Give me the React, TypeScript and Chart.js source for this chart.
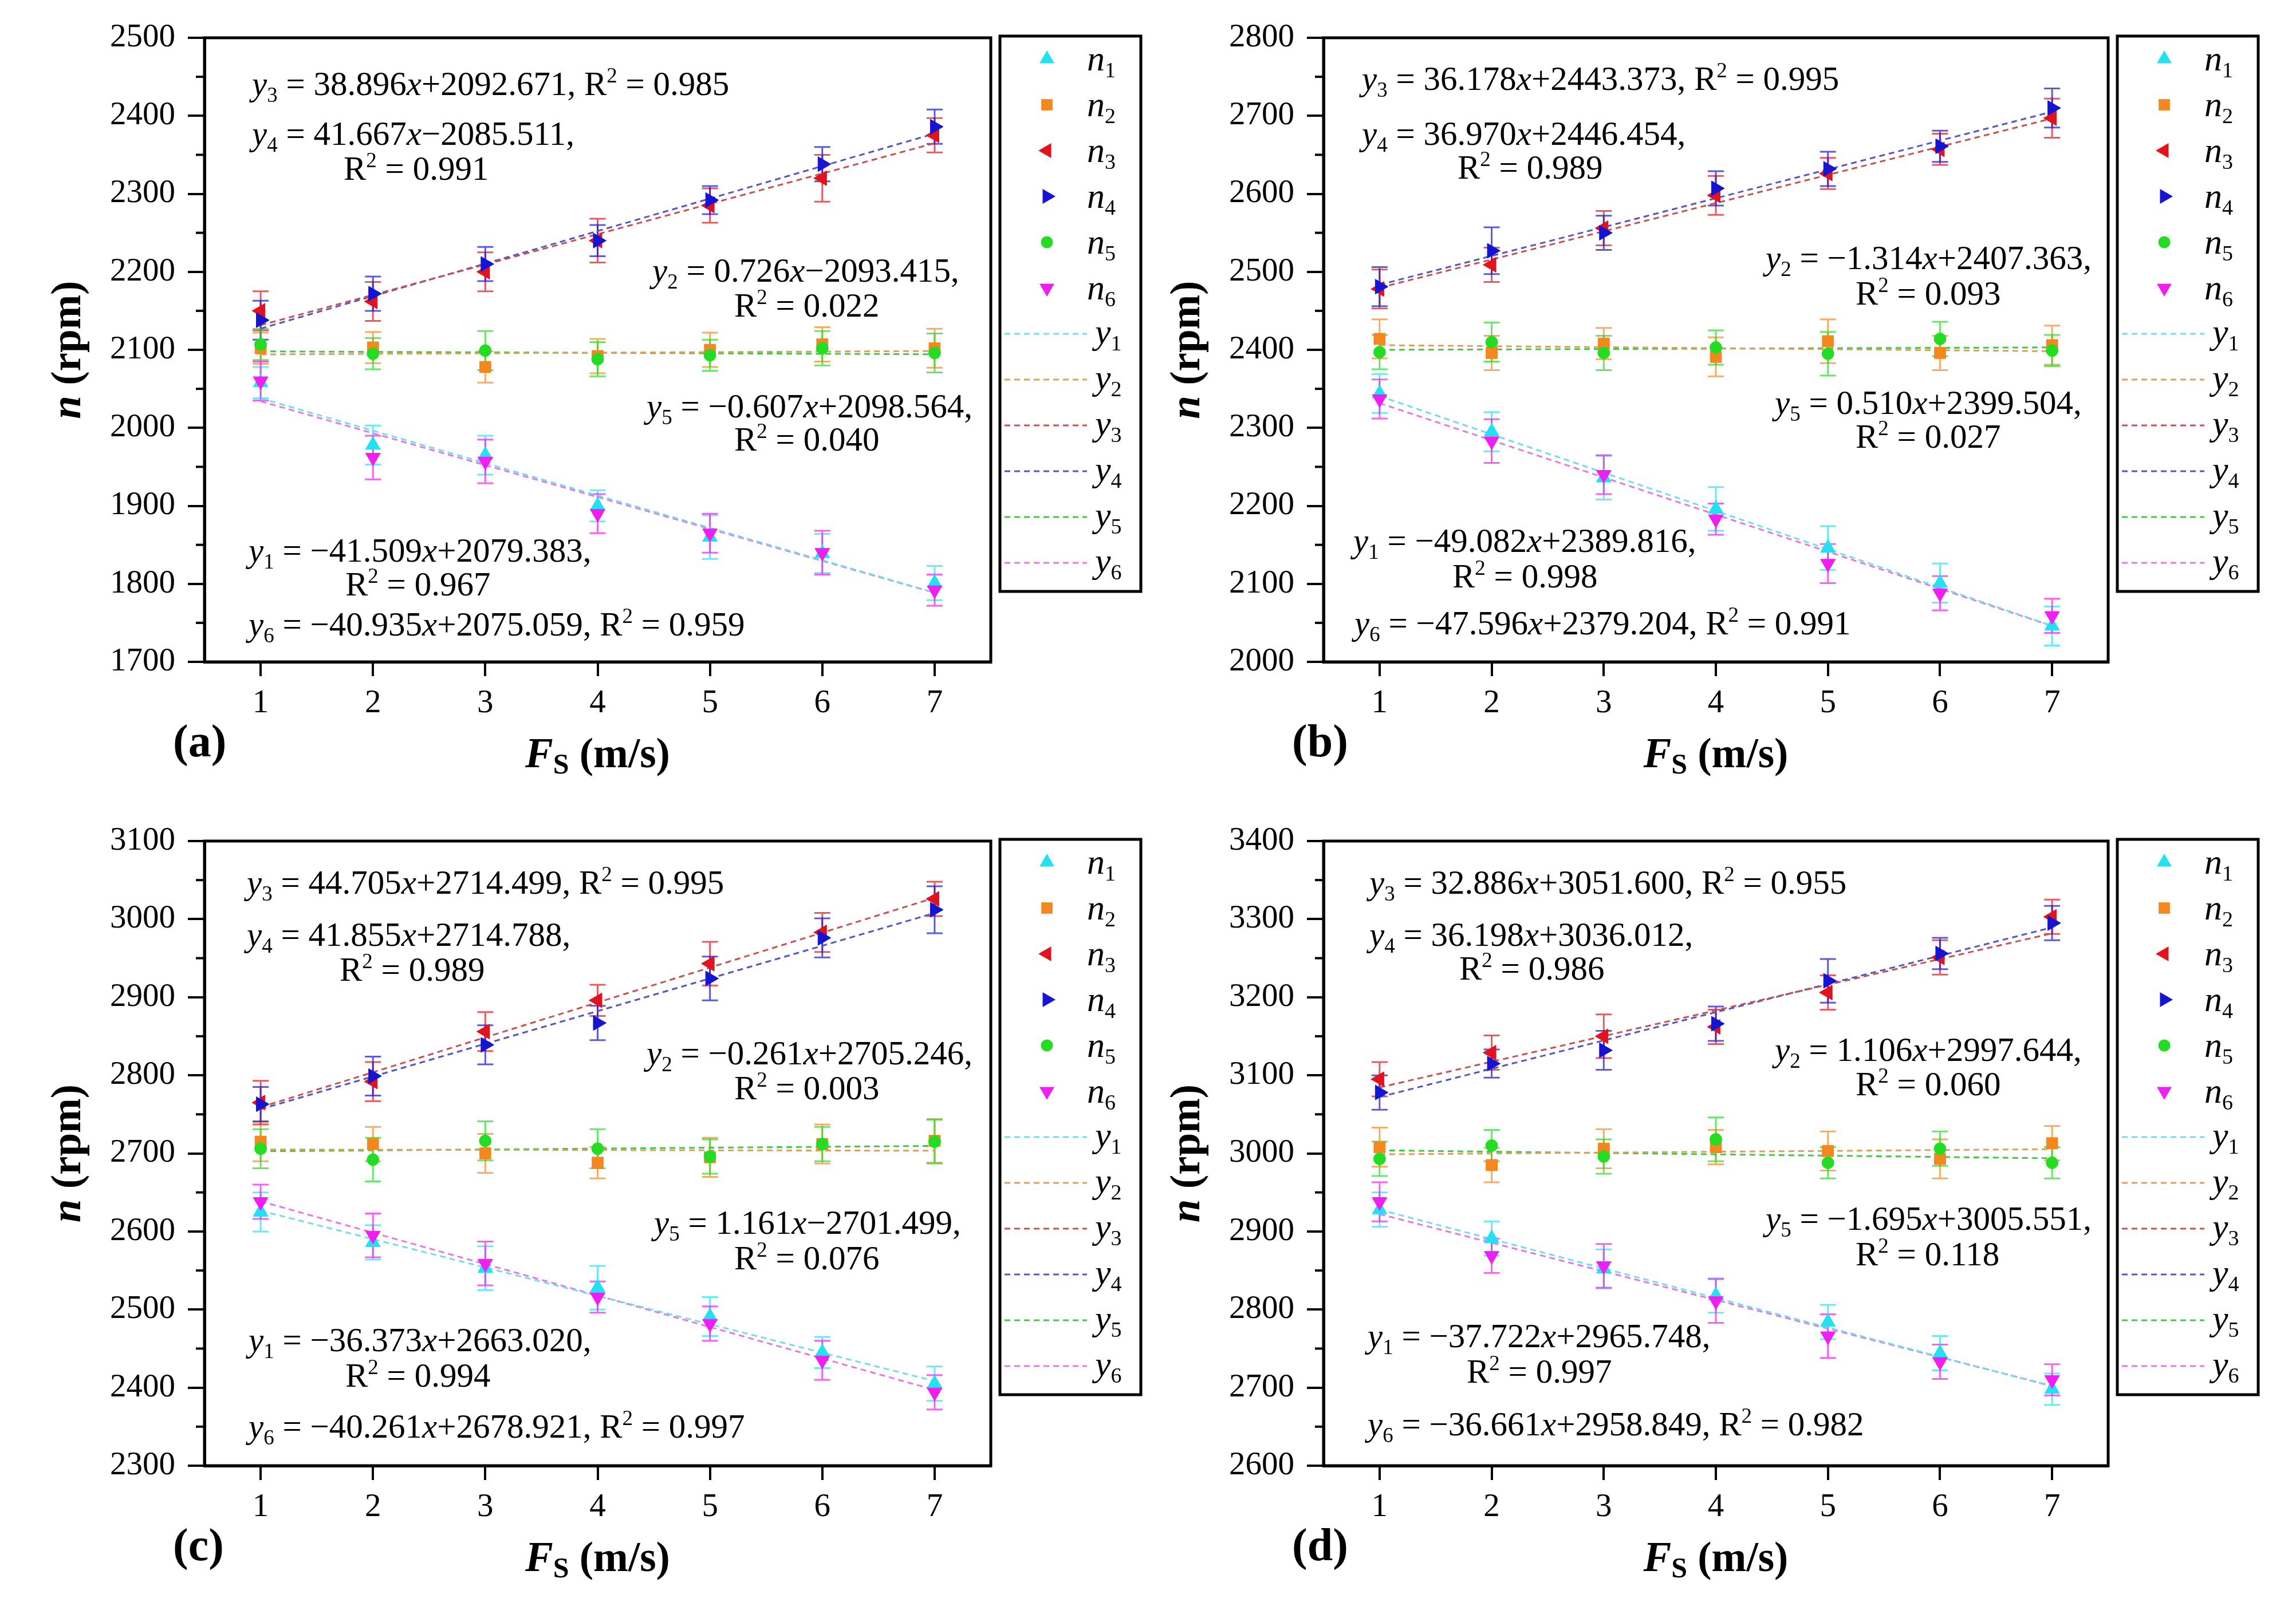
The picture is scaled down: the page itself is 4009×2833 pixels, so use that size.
import React, { useEffect, useRef } from 'react';
import { Chart, registerables } from 'chart.js';
import { drawPoint } from 'chart.js/helpers';

Chart.register(...registerables);

const SERIF = '"Liberation Serif", "Times New Roman", Times, serif';

// ---------------- data ----------------
const X_VALUES = [1, 2, 3, 4, 5, 6, 7];
const X_TICKS = [1, 2, 3, 4, 5, 6, 7];
const SERIES_NAMES = ['n1', 'n2', 'n3', 'n4', 'n5', 'n6'];
const FIT_NAMES = ['y1', 'y2', 'y3', 'y4', 'y5', 'y6'];
const PANEL_LETTERS = ['(a)', '(b)', '(c)', '(d)'];

// panel (a)
const A_Y_RANGE = [1700, 2500];
const A_VALUES = [
  [2058, 1978, 1965, 1900, 1860, 1839, 1801],
  [2102, 2103, 2078, 2092, 2100, 2107, 2102],
  [2150, 2162, 2200, 2240, 2285, 2320, 2375],
  [2138, 2172, 2210, 2240, 2292, 2338, 2386],
  [2107, 2095, 2099, 2088, 2093, 2102, 2096],
  [2060, 1962, 1957, 1890, 1865, 1840, 1792],
];
const A_ERRORS = [
  [20, 25, 25, 20, 28, 25, 22],
  [20, 20, 20, 22, 22, 22, 25],
  [25, 25, 25, 28, 22, 30, 22],
  [25, 22, 22, 20, 18, 22, 22],
  [20, 20, 25, 22, 20, 22, 25],
  [25, 28, 28, 25, 25, 28, 20],
];
const A_FIT_AT_1 = [2037.9, 2094.1, 2131.6, 2127.2, 2098.0, 2034.1];
const A_FIT_AT_7 = [1788.8, 2098.5, 2364.9, 2377.2, 2094.3, 1788.5];
const A_EQUATIONS = [
  'y3 = 38.896x+2092.671, R2 = 0.985',
  'y4 = 41.667x\u22122085.511,',
  'R2 = 0.991',
  'y2 = 0.726x\u22122093.415,',
  'R2 = 0.022',
  'y5 = \u22120.607x+2098.564,',
  'R2 = 0.040',
  'y1 = \u221241.509x+2079.383,',
  'R2 = 0.967',
  'y6 = \u221240.935x+2075.059, R2 = 0.959',
];

// panel (b)
const B_Y_RANGE = [2000, 2800];
const B_VALUES = [
  [2344, 2295, 2236, 2196, 2146, 2101, 2046],
  [2414, 2396, 2408, 2391, 2411, 2396, 2406],
  [2478, 2509, 2556, 2598, 2626, 2657, 2697],
  [2481, 2527, 2550, 2607, 2632, 2661, 2710],
  [2397, 2410, 2396, 2403, 2395, 2414, 2399],
  [2337, 2283, 2240, 2183, 2126, 2088, 2059],
];
const B_ERRORS = [
  [25, 25, 28, 28, 28, 25, 25],
  [25, 22, 20, 25, 28, 22, 25],
  [25, 22, 22, 25, 20, 20, 25],
  [25, 30, 22, 22, 22, 20, 25],
  [22, 25, 22, 22, 28, 22, 20],
  [25, 28, 25, 20, 25, 22, 22],
];
const B_FIT_AT_1 = [2340.7, 2406.0, 2479.6, 2483.4, 2400.0, 2331.6];
const B_FIT_AT_7 = [2046.2, 2398.2, 2696.6, 2705.2, 2403.1, 2046.0];
const B_EQUATIONS = [
  'y3 = 36.178x+2443.373, R2 = 0.995',
  'y4 = 36.970x+2446.454,',
  'R2 = 0.989',
  'y2 = \u22121.314x+2407.363,',
  'R2 = 0.093',
  'y5 = 0.510x+2399.504,',
  'R2 = 0.027',
  'y1 = \u221249.082x+2389.816,',
  'R2 = 0.998',
  'y6 = \u221247.596x+2379.204, R2 = 0.991',
];

// panel (c)
const C_Y_RANGE = [2300, 3100];
const C_VALUES = [
  [2625, 2586, 2553, 2528, 2491, 2445, 2405],
  [2715, 2712, 2700, 2688, 2695, 2712, 2716],
  [2765, 2792, 2856, 2896, 2943, 2983, 3026],
  [2763, 2799, 2839, 2867, 2924, 2976, 3012],
  [2706, 2692, 2716, 2706, 2696, 2712, 2715],
  [2638, 2595, 2559, 2516, 2482, 2435, 2394],
];
const C_ERRORS = [
  [25, 22, 28, 28, 25, 20, 22],
  [25, 22, 25, 20, 25, 25, 28],
  [28, 25, 25, 20, 28, 25, 22],
  [22, 25, 25, 22, 28, 25, 30],
  [25, 28, 25, 25, 22, 22, 28],
  [22, 28, 28, 20, 22, 25, 22],
];
const C_FIT_AT_1 = [2626.6, 2705.0, 2759.2, 2756.6, 2702.7, 2638.7];
const C_FIT_AT_7 = [2408.4, 2703.4, 3027.4, 3007.8, 2709.6, 2397.1];
const C_EQUATIONS = [
  'y3 = 44.705x+2714.499, R2 = 0.995',
  'y4 = 41.855x+2714.788,',
  'R2 = 0.989',
  'y2 = \u22120.261x+2705.246,',
  'R2 = 0.003',
  'y5 = 1.161x\u22122701.499,',
  'R2 = 0.076',
  'y1 = \u221236.373x+2663.020,',
  'R2 = 0.994',
  'y6 = \u221240.261x+2678.921, R2 = 0.997',
];

// panel (d)
const D_Y_RANGE = [2600, 3400];
const D_VALUES = [
  [2928, 2891, 2852, 2818, 2784, 2744, 2698],
  [3008, 2985, 3006, 3008, 3003, 2993, 3013],
  [3095, 3129, 3150, 3162, 3206, 3251, 3303],
  [3078, 3115, 3132, 3166, 3221, 3256, 3295],
  [2993, 3010, 2996, 3018, 2988, 3006, 2988],
  [2938, 2869, 2856, 2811, 2766, 2733, 2710],
];
const D_ERRORS = [
  [22, 22, 25, 22, 22, 22, 20],
  [25, 22, 25, 22, 25, 25, 22],
  [22, 22, 28, 22, 22, 22, 22],
  [22, 18, 25, 22, 28, 20, 22],
  [22, 20, 22, 28, 20, 22, 20],
  [25, 22, 28, 28, 28, 22, 20],
];
const D_FIT_AT_1 = [2928.0, 2998.8, 3084.5, 3072.2, 3003.9, 2922.2];
const D_FIT_AT_7 = [2701.7, 3005.4, 3281.8, 3289.4, 2993.7, 2702.2];
const D_EQUATIONS = [
  'y3 = 32.886x+3051.600, R2 = 0.955',
  'y4 = 36.198x+3036.012,',
  'R2 = 0.986',
  'y2 = 1.106x+2997.644,',
  'R2 = 0.060',
  'y5 = \u22121.695x+3005.551,',
  'R2 = 0.118',
  'y1 = \u221237.722x+2965.748,',
  'R2 = 0.997',
  'y6 = \u221236.661x+2958.849, R2 = 0.982',
];

// ---------------- styles ----------------
const SERIES_STYLES = [
  { color: '#22E2F2', pointStyle: 'triangle', rotation: 0, radius: 15 },
  { color: '#F5871F', pointStyle: 'rect', rotation: 0, radius: 14 },
  { color: '#E3121C', pointStyle: 'triangle', rotation: -90, radius: 15 },
  { color: '#1414D2', pointStyle: 'triangle', rotation: 90, radius: 15 },
  { color: '#22DD22', pointStyle: 'circle', rotation: 0, radius: 10.5 },
  { color: '#F01EF0', pointStyle: 'triangle', rotation: 180, radius: 15 },
];
const FIT_COLORS = ['#74DCEA', '#D9A060', '#C85050', '#5555C4', '#44C844', '#E478E4'];
const ERR_ALPHA = 0.7;

// ---------------- layout ----------------
const LAYOUTS = [
  { left: 0, top: 0, w: 2000, h: 1400, L: 357, R: 1730, T: 66, B: 1156,
    eqPos: [[83, 81], [83, 168], [243, 229], [782, 407], [925, 468], [772, 644], [925, 702], [77, 896], [246, 955], [77, 1025]] },
  { left: 2000, top: 0, w: 2009, h: 1400, L: 311, R: 1681, T: 66, B: 1156,
    eqPos: [[67, 72], [67, 168], [234, 227], [772, 385], [929, 447], [788, 638], [929, 697], [52, 879], [225, 941], [54, 1023]] },
  { left: 0, top: 1400, w: 2000, h: 1433, L: 357, R: 1730, T: 69, B: 1160,
    eqPos: [[74, 73], [74, 164], [236, 225], [772, 371], [925, 432], [785, 667], [925, 729], [77, 872], [246, 934], [77, 1023]] },
  { left: 2000, top: 1400, w: 2009, h: 1433, L: 311, R: 1681, T: 69, B: 1160,
    eqPos: [[80, 73], [80, 164], [237, 223], [788, 365], [929, 425], [772, 660], [929, 722], [77, 865], [250, 927], [77, 1019]] },
];

const EQ_SIZE = 59;
const LEGEND_SIZE = 62;
const TICK_SIZE = 57;
const TITLE_SIZE = 73;
const LETTER_SIZE = 80;

const PANELS = [
  { range: A_Y_RANGE, values: A_VALUES, errors: A_ERRORS, fit1: A_FIT_AT_1, fit7: A_FIT_AT_7, eqs: A_EQUATIONS },
  { range: B_Y_RANGE, values: B_VALUES, errors: B_ERRORS, fit1: B_FIT_AT_1, fit7: B_FIT_AT_7, eqs: B_EQUATIONS },
  { range: C_Y_RANGE, values: C_VALUES, errors: C_ERRORS, fit1: C_FIT_AT_1, fit7: C_FIT_AT_7, eqs: C_EQUATIONS },
  { range: D_Y_RANGE, values: D_VALUES, errors: D_ERRORS, fit1: D_FIT_AT_1, fit7: D_FIT_AT_7, eqs: D_EQUATIONS },
];

// ---------------- helpers ----------------
function withAlpha(hex: string, a: number) {
  const r = parseInt(hex.slice(1, 3), 16), g = parseInt(hex.slice(3, 5), 16), b = parseInt(hex.slice(5, 7), 16);
  return `rgba(${r},${g},${b},${a})`;
}

type Seg = { t: string; font: string; dy: number };
function richSegments(text: string, size: number, bold = false): Seg[] {
  const w = bold ? 'bold ' : '';
  const small = Math.round(size * 0.62);
  const segs: Seg[] = [];
  for (let i = 0; i < text.length; i++) {
    const ch = text[i];
    const prev = i > 0 ? text[i - 1] : '';
    let font = `${w}${size}px ${SERIF}`;
    let dy = 0;
    if (ch === 'x' || ch === 'y' || ch === 'n') font = `italic ${w}${size}px ${SERIF}`;
    else if (/[0-9]/.test(ch) && (prev === 'y' || prev === 'n')) { font = `${w}${small}px ${SERIF}`; dy = size * 0.2; }
    else if (ch === '2' && prev === 'R') { font = `${w}${small}px ${SERIF}`; dy = -size * 0.38; }
    const last = segs[segs.length - 1];
    if (last && last.font === font && last.dy === dy) last.t += ch;
    else segs.push({ t: ch, font, dy });
  }
  return segs;
}
function drawRich(ctx: CanvasRenderingContext2D, text: string, x: number, baseline: number, size: number) {
  let cx = x;
  for (const s of richSegments(text, size)) {
    ctx.font = s.font;
    ctx.fillText(s.t, cx, baseline + s.dy);
    cx += ctx.measureText(s.t).width;
  }
}

function makeDecorPlugin(p: any, lay: any, letter: string) {
  return {
    id: 'decor',
    beforeDatasetsDraw(chart: any) {
      const { ctx } = chart;
      const xs = chart.scales.x, ys = chart.scales.y;
      ctx.save();
      ctx.lineWidth = 3;
      p.values.forEach((vals: number[], si: number) => {
        ctx.strokeStyle = withAlpha(SERIES_STYLES[si].color, ERR_ALPHA);
        vals.forEach((v: number, j: number) => {
          const e = p.errors[si][j];
          const px = xs.getPixelForValue(X_VALUES[j]);
          const pt = ys.getPixelForValue(v + e);
          const pb = ys.getPixelForValue(v - e);
          ctx.beginPath();
          ctx.moveTo(px, pt); ctx.lineTo(px, pb);
          ctx.moveTo(px - 14, pt); ctx.lineTo(px + 14, pt);
          ctx.moveTo(px - 14, pb); ctx.lineTo(px + 14, pb);
          ctx.stroke();
        });
      });
      ctx.restore();
    },
    afterDraw(chart: any) {
      const { ctx, chartArea: a } = chart;
      const ys = chart.scales.y;
      ctx.save();
      // frame
      ctx.strokeStyle = '#000';
      ctx.lineWidth = 5;
      ctx.strokeRect(a.left, a.top, a.right - a.left, a.bottom - a.top);
      // minor ticks
      ctx.lineWidth = 4;
      for (let v = p.range[0] + 50; v < p.range[1]; v += 100) {
        const py = ys.getPixelForValue(v);
        ctx.beginPath(); ctx.moveTo(a.left - 15, py); ctx.lineTo(a.left, py); ctx.stroke();
      }
      // equations
      ctx.fillStyle = '#000';
      ctx.textBaseline = 'alphabetic';
      ctx.textAlign = 'left';
      p.eqs.forEach((t: string, k: number) => {
        const [dx, dy] = lay.eqPos[k];
        drawRich(ctx, t, a.left + dx, a.top + dy + EQ_SIZE * 0.33, EQ_SIZE);
      });
      // legend
      const lx = a.right + 16, lt = a.top - 3, lw = 246, lh = 970;
      ctx.fillStyle = '#fff';
      ctx.fillRect(lx, lt, lw, lh);
      ctx.strokeStyle = '#000';
      ctx.lineWidth = 5;
      ctx.strokeRect(lx, lt, lw, lh);
      SERIES_NAMES.forEach((name, i) => {
        const st = SERIES_STYLES[i];
        const cy = lt + 40 + i * 80;
        ctx.fillStyle = st.color;
        ctx.strokeStyle = st.color;
        drawPoint(ctx, { pointStyle: st.pointStyle as any, rotation: st.rotation, radius: st.radius, borderWidth: 0 } as any, lx + 82, cy);
        ctx.fillStyle = '#000';
        drawRich(ctx, name, lx + 152, cy + 20, LEGEND_SIZE);
      });
      FIT_NAMES.forEach((name, i) => {
        const cy = lt + 40 + (i + 6) * 80;
        ctx.strokeStyle = FIT_COLORS[i];
        ctx.lineWidth = 3;
        ctx.setLineDash([10, 7]);
        ctx.beginPath(); ctx.moveTo(lx + 8, cy); ctx.lineTo(lx + 152, cy); ctx.stroke();
        ctx.setLineDash([]);
        ctx.fillStyle = '#000';
        drawRich(ctx, name, lx + 166, cy + 17, LEGEND_SIZE);
      });
      // y title
      ctx.fillStyle = '#000';
      const yc = (a.top + a.bottom) / 2;
      const ycx = a.left - 235;
      ctx.save();
      ctx.translate(ycx + TITLE_SIZE * 0.25, yc);
      ctx.rotate(-Math.PI / 2);
      const f1 = `italic bold ${TITLE_SIZE}px ${SERIF}`, f2 = `bold ${TITLE_SIZE}px ${SERIF}`;
      ctx.font = f1; const w1 = ctx.measureText('n').width;
      ctx.font = f2; const w2 = ctx.measureText(' (rpm)').width;
      const sx = -(w1 + w2) / 2;
      ctx.font = f1; ctx.fillText('n', sx, 0);
      ctx.font = f2; ctx.fillText(' (rpm)', sx + w1, 0);
      ctx.restore();
      // x title
      const xcx = (a.left + a.right) / 2;
      const xb = a.bottom + 160 + TITLE_SIZE * 0.33;
      const fF = `italic bold ${TITLE_SIZE}px ${SERIF}`, fS = `bold ${Math.round(TITLE_SIZE * 0.68)}px ${SERIF}`, fR = `bold ${TITLE_SIZE}px ${SERIF}`;
      ctx.font = fF; const wF = ctx.measureText('F').width;
      ctx.font = fS; const wS = ctx.measureText('S').width;
      ctx.font = fR; const wR = ctx.measureText(' (m/s)').width;
      let tx = xcx - (wF + wS + wR) / 2;
      ctx.font = fF; ctx.fillText('F', tx, xb); tx += wF;
      ctx.font = fS; ctx.fillText('S', tx, xb + 11); tx += wS;
      ctx.font = fR; ctx.fillText(' (m/s)', tx, xb);
      // panel letter
      ctx.font = `bold ${LETTER_SIZE}px ${SERIF}`;
      ctx.fillText(letter, a.left - 55, a.bottom + 145 + LETTER_SIZE * 0.25);
      ctx.restore();
    },
  };
}

function Panel({ index }: { index: number }) {
  const ref = useRef<HTMLCanvasElement>(null);
  const lay = LAYOUTS[index];
  useEffect(() => {
    const p = PANELS[index];
    const markerSets = p.values.map((vals, si) => {
      const st = SERIES_STYLES[si];
      return {
        label: SERIES_NAMES[si],
        data: X_VALUES.map((x, j) => ({ x, y: vals[j] })),
        showLine: false,
        pointStyle: st.pointStyle,
        pointRotation: st.rotation,
        pointRadius: st.radius,
        pointHoverRadius: st.radius,
        backgroundColor: st.color,
        borderColor: st.color,
        pointBorderWidth: 1,
        order: 10 - si,
      };
    });
    const fitSets = FIT_NAMES.map((name, i) => ({
      label: name,
      data: [{ x: X_VALUES[0], y: p.fit1[i] }, { x: X_VALUES[X_VALUES.length - 1], y: p.fit7[i] }],
      showLine: true,
      borderColor: FIT_COLORS[i],
      backgroundColor: FIT_COLORS[i],
      borderWidth: 3,
      borderDash: [10, 7],
      pointRadius: 0,
      fill: false,
      order: 100 + i,
    }));
    const tickFont = { family: SERIF, size: TICK_SIZE };
    const chart = new Chart(ref.current as HTMLCanvasElement, {
      type: 'scatter',
      data: { datasets: [...markerSets, ...fitSets] as any },
      plugins: [makeDecorPlugin(p, lay, PANEL_LETTERS[index]) as any],
      options: {
        animation: false,
        responsive: false,
        devicePixelRatio: 1,
        layout: { padding: { left: 0, top: lay.T, right: lay.w - lay.R, bottom: 0 } },
        plugins: { legend: { display: false }, tooltip: { enabled: false } },
        scales: {
          x: {
            type: 'linear',
            min: 0.5,
            max: 7.5,
            afterBuildTicks: (s: any) => { s.ticks = X_TICKS.map((v) => ({ value: v })); },
            afterFit: (s: any) => { s.height = lay.h - lay.B; },
            grid: { display: true, drawOnChartArea: false, drawTicks: true, tickLength: 25, tickWidth: 4, tickColor: '#000', color: '#000', lineWidth: 4 },
            border: { display: true, color: '#000', width: 5 },
            ticks: { font: tickFont, color: '#000', padding: 14, maxRotation: 0, autoSkip: false, callback: (v: any) => String(v) },
          },
          y: {
            type: 'linear',
            min: p.range[0],
            max: p.range[1],
            afterFit: (s: any) => { s.width = lay.L; },
            grid: { display: true, drawOnChartArea: false, drawTicks: true, tickLength: 29, tickWidth: 4, tickColor: '#000', color: '#000', lineWidth: 4 },
            border: { display: true, color: '#000', width: 5 },
            ticks: { stepSize: 100, font: tickFont, color: '#000', padding: 22, autoSkip: false, callback: (v: any) => String(v) },
          },
        },
      } as any,
    });
    return () => chart.destroy();
  }, [index]);
  return (
    <canvas
      ref={ref}
      width={lay.w}
      height={lay.h}
      style={{ position: 'absolute', left: lay.left, top: lay.top, width: lay.w, height: lay.h }}
    />
  );
}

export default function App() {
  useEffect(() => {
    document.body.style.margin = '0';
    document.body.style.overflow = 'hidden';
  }, []);
  return (
    <div style={{ position: 'absolute', left: 0, top: 0, width: 4009, height: 2833, background: '#fff', overflow: 'hidden' }}>
      {[0, 1, 2, 3].map((i) => <Panel key={i} index={i} />)}
    </div>
  );
}
